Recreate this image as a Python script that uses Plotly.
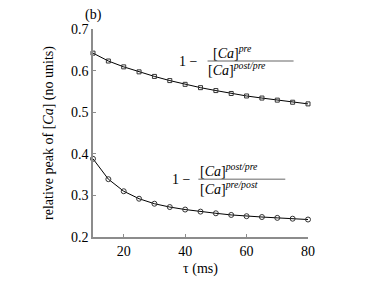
import plotly.graph_objects as go

tau = [10, 15, 20, 25, 30, 35, 40, 45, 50, 55, 60, 65, 70, 75, 80]
pre_ratio = [0.642, 0.623, 0.609, 0.597, 0.586, 0.576, 0.567, 0.559, 0.552, 0.545,
             0.539, 0.534, 0.529, 0.524, 0.520]
post_ratio = [0.388, 0.339, 0.310, 0.292, 0.280, 0.272, 0.266, 0.261, 0.257, 0.253,
              0.250, 0.248, 0.246, 0.244, 0.242]
x_ticks = [20, 40, 60, 80]
y_ticks = [0.2, 0.3, 0.4, 0.5, 0.6, 0.7]

FONT = "Times New Roman, Liberation Serif, serif"
AX = "#8c8c8c"

fig = go.Figure()
fig.add_trace(go.Scatter(
    x=tau, y=pre_ratio, mode="lines+markers", cliponaxis=False,
    line=dict(color="black", width=1),
    marker=dict(symbol="square-open", size=4, color="#333", line=dict(width=1)),
    showlegend=False))
fig.add_trace(go.Scatter(
    x=tau, y=post_ratio, mode="lines+markers", cliponaxis=False,
    line=dict(color="black", width=1),
    marker=dict(symbol="circle-open", size=5, color="#333", line=dict(width=1)),
    showlegend=False))

fig.update_layout(
    width=374, height=278,
    margin=dict(l=85, r=74, t=21, b=44),
    paper_bgcolor="white", plot_bgcolor="white",
    font=dict(family=FONT, size=14, color="black"),
    xaxis=dict(range=[10, 80], tickvals=x_ticks, showline=True, linecolor=AX, linewidth=1.5,
               ticks="inside", ticklen=3, tickcolor=AX, showgrid=False, zeroline=False,
               tickfont=dict(family=FONT, size=14),
               title=dict(text="τ (ms)", standoff=6, font=dict(family=FONT, size=14))),
    yaxis=dict(range=[0.2, 0.7], tickvals=y_ticks, tickformat=".1f", showline=True,
               linecolor=AX, linewidth=1.5, ticks="inside", ticklen=3, tickcolor=AX,
               showgrid=False, zeroline=False,
               tickfont=dict(family=FONT, size=14),
               title=dict(text="relative peak of [<i>Ca</i>] (no units)", standoff=14,
                          font=dict(family=FONT, size=14))),
)

ann = [
    dict(x=0.0, y=1.115, xref="paper", yref="paper", text="(b)", xanchor="center"),
    # top formula
    dict(x=41.1, y=0.623, text="1 −"),
    dict(x=55.5, y=0.644, text="[<i>Ca</i>]<sup><i>pre</i></sup>"),
    dict(x=57.0, y=0.603, text="[<i>Ca</i>]<sup><i>post/pre</i></sup>"),
    # bottom formula
    dict(x=38.8, y=0.339, text="1 −"),
    dict(x=54.2, y=0.362, text="[<i>Ca</i>]<sup><i>post/pre</i></sup>"),
    dict(x=54.2, y=0.318, text="[<i>Ca</i>]<sup><i>pre/post</i></sup>"),
]
for a in ann:
    a.setdefault("xref", "x")
    a.setdefault("yref", "y")
    a["showarrow"] = False
    a["font"] = dict(family=FONT, size=14, color="black")
    fig.add_annotation(**a)

fig.add_shape(type="line", xref="x", yref="y", x0=47.3, x1=75.3, y0=0.623, y1=0.623,
              line=dict(color="#999999", width=1.5))
fig.add_shape(type="line", xref="x", yref="y", x0=44.3, x1=72.6, y0=0.339, y1=0.339,
              line=dict(color="#999999", width=1.5))

fig.write_html("out.html")
